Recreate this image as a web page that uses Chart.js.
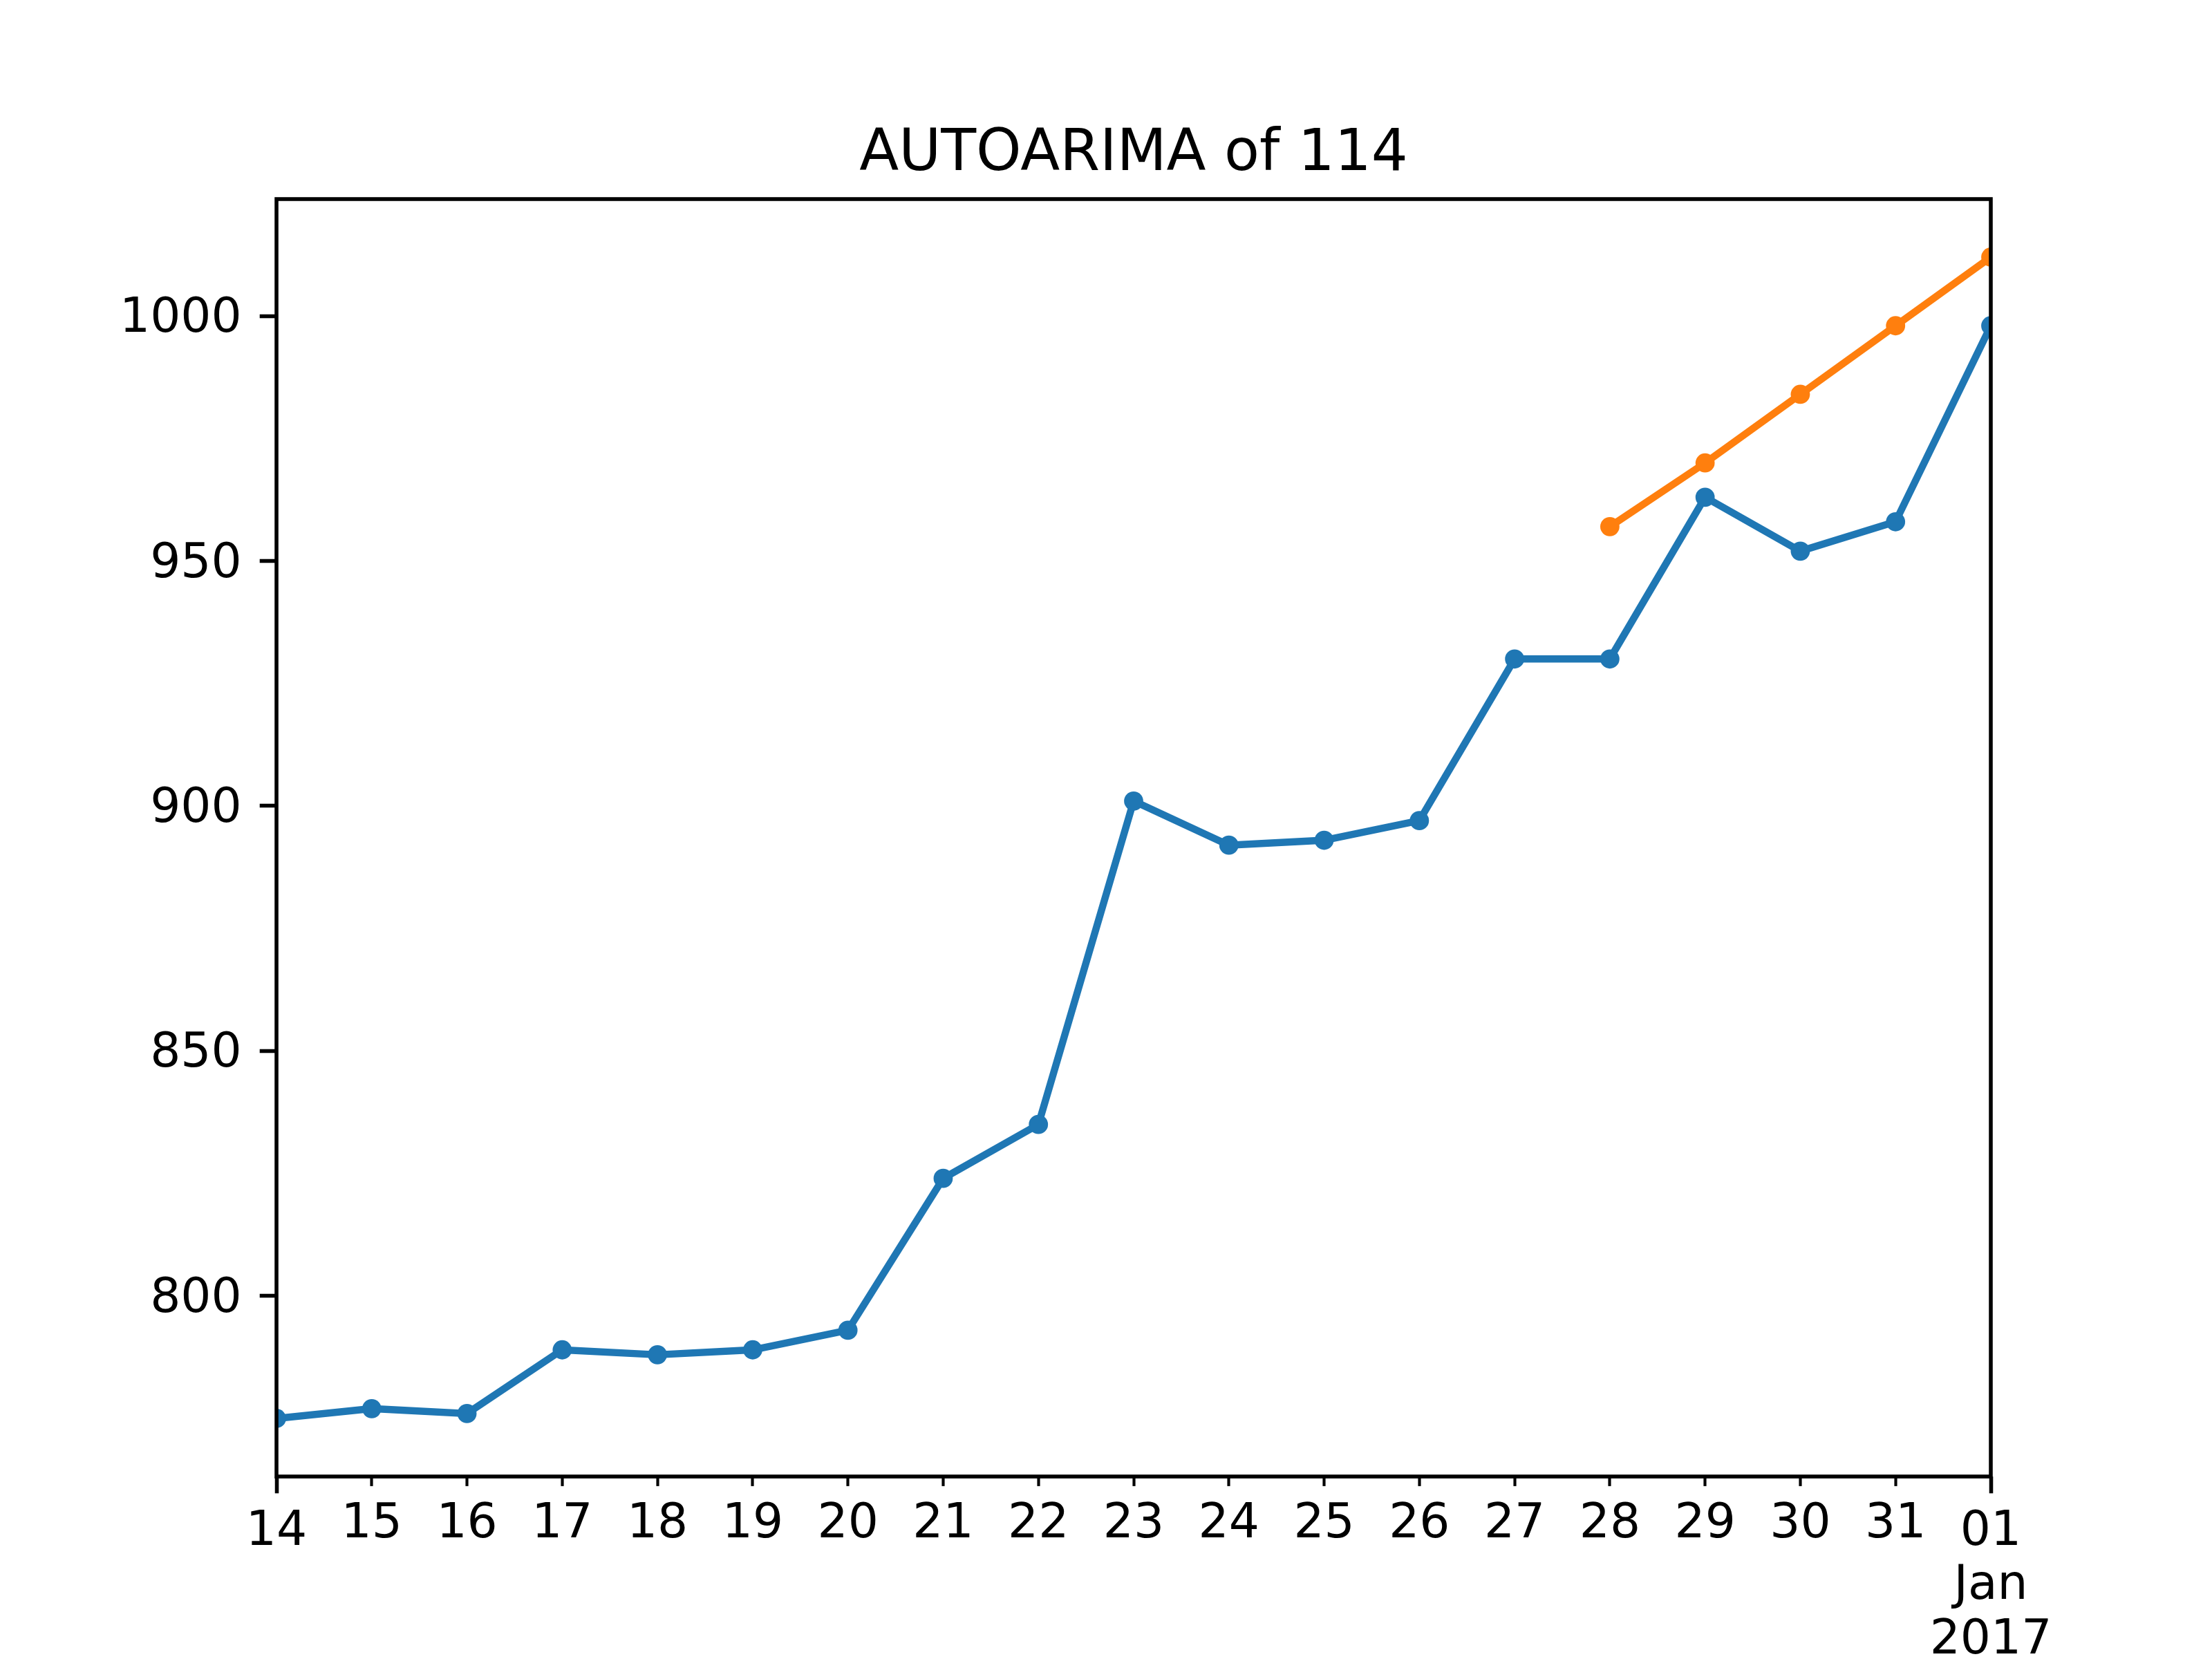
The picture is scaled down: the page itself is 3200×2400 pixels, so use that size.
<!DOCTYPE html>
<html>
<head>
<meta charset="utf-8">
<title>AUTOARIMA of 114</title>
<script src="https://cdn.jsdelivr.net/npm/chart.js@4.4.1/dist/chart.umd.min.js"></script>
<style>
  html, body { margin: 0; padding: 0; background: #fff; }
  canvas { display: block; }
</style>
</head>
<body>
<canvas id="chart" width="3200" height="2400"></canvas>
<script>
// data
const dayLabels = ['14', '15', '16', '17', '18', '19', '20', '21', '22', '23',
                   '24', '25', '26', '27', '28', '29', '30', '31', '01']
const actualValues = [775, 777, 776, 789, 788, 789, 793, 824, 835, 901,
                      892, 893, 897, 930, 930, 963, 952, 958, 998]
const forecastDays = ['28', '29', '30', '31', '01']
const forecastValues = [957, 970, 984, 998, 1012]
const yTicks = [800, 850, 900, 950, 1000]
// major ticks (first and last day) carry their own text
const majorText = { 0: ['14'], 18: ['01', 'Jan', '2017'] }

const PT = 500 / 72   // figure is 6.4 x 4.8 in at 500 dpi
const FAMILY = "'DejaVu Sans', sans-serif"
const BLUE = '#1f77b4'
const ORANGE = '#ff7f0e'

const allValues = actualValues.concat(forecastValues)
const dataMin = Math.min(...allValues)
const dataMax = Math.max(...allValues)
const margin = (dataMax - dataMin) * 0.05

const isMajor = i => majorText[i] !== undefined
const tickFont = { family: FAMILY, size: 10 * PT, lineHeight: 1.13 }

// axes frame on all four sides, drawn over the lines like matplotlib spines
const framePlugin = {
    id: 'frame',
    afterLayout(chart) {
        // both x axes take no room in the layout, but their labels
        // must not be clipped away, so let them reach the canvas bottom
        ['x', 'xMajor'].forEach(id => {
            chart.scales[id].bottom = chart.height
            chart.scales[id].height = chart.height - chart.scales[id].top
        })
    },
    afterDatasetsDraw(chart) {
        const { ctx, chartArea: a } = chart
        ctx.save()
        ctx.strokeStyle = '#000'
        ctx.lineWidth = 0.8 * PT
        ctx.strokeRect(a.left, a.top, a.right - a.left, a.bottom - a.top)
        ctx.restore()
    }
}

const lineStyle = color => ({
    borderColor: color,
    backgroundColor: color,
    borderWidth: 1.5 * PT,
    pointRadius: 2 * PT,
    pointHoverRadius: 2 * PT,
    pointBorderWidth: 0,
    pointBackgroundColor: color,
    tension: 0,
    fill: false,
    clip: 0
})

const canvas = document.getElementById('chart')
new Chart(canvas, {
    type: 'line',
    data: {
        labels: dayLabels,
        datasets: [
            Object.assign({
                label: 'forecast',
                data: forecastDays.map((d, i) => ({ x: d, y: forecastValues[i] })),
                order: 0
            }, lineStyle(ORANGE)),
            Object.assign({
                label: 'actual',
                data: actualValues,
                order: 1
            }, lineStyle(BLUE))
        ]
    },
    options: {
        responsive: false,
        devicePixelRatio: 1,
        animation: false,
        events: [],
        layout: { padding: { left: 0, right: 320, top: 0, bottom: 264 } },
        plugins: {
            legend: { display: false },
            tooltip: { enabled: false },
            title: {
                display: true,
                fullSize: false,
                text: 'AUTOARIMA of 114',
                color: '#000',
                font: { family: FAMILY, size: 12 * PT, weight: 'normal', lineHeight: 1.2 },
                padding: { top: 174, bottom: 14 }
            }
        },
        scales: {
            x: {
                type: 'category',
                position: 'bottom',
                offset: false,
                border: { display: false },
                grid: {
                    drawOnChartArea: false,
                    tickLength: 2 * PT,
                    tickWidth: 0.6 * PT,
                    tickColor: ctx => isMajor(ctx.index) ? 'rgba(0,0,0,0)' : '#000'
                },
                ticks: {
                    autoSkip: false,
                    maxRotation: 0,
                    minRotation: 0,
                    padding: 17,
                    color: '#000',
                    font: tickFont,
                    callback: (v, i) => isMajor(i) ? '' : dayLabels[i]
                },
                afterFit: s => { s.height = 0 }
            },
            xMajor: {
                type: 'category',
                labels: dayLabels,
                position: 'bottom',
                offset: false,
                border: { display: false },
                grid: {
                    drawOnChartArea: false,
                    tickLength: 3.5 * PT,
                    tickWidth: 0.8 * PT,
                    tickColor: ctx => isMajor(ctx.index) ? '#000' : 'rgba(0,0,0,0)'
                },
                ticks: {
                    autoSkip: false,
                    maxRotation: 0,
                    minRotation: 0,
                    padding: 17,
                    color: '#000',
                    font: tickFont,
                    callback: (v, i) => isMajor(i) ? majorText[i] : ''
                },
                afterFit: s => { s.height = 0 }
            },
            y: {
                type: 'linear',
                position: 'left',
                min: dataMin - margin,
                max: dataMax + margin,
                border: { display: false },
                grid: {
                    drawOnChartArea: false,
                    tickLength: 3.5 * PT,
                    tickWidth: 0.8 * PT,
                    tickColor: '#000'
                },
                ticks: {
                    padding: 26,
                    labelOffset: 5,
                    color: '#000',
                    font: { family: FAMILY, size: 10 * PT },
                    callback: v => String(v)
                },
                afterBuildTicks: s => { s.ticks = yTicks.map(v => ({ value: v })) },
                afterFit: s => { s.width = 400 }
            }
        }
    },
    plugins: [framePlugin]
})
</script>
</body>
</html>
